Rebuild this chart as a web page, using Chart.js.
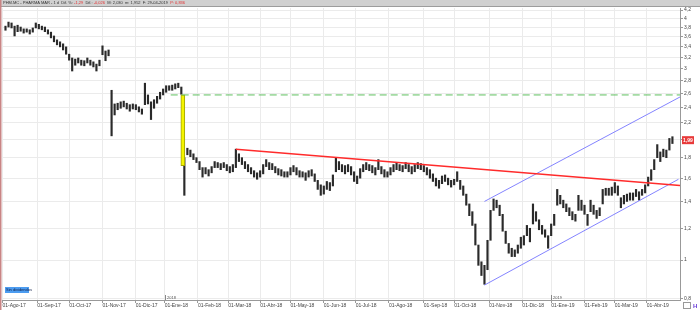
<!DOCTYPE html>
<html><head><meta charset="utf-8">
<script src="https://cdn.jsdelivr.net/npm/chart.js@4"></script>
<style>html,body{margin:0;padding:0;background:#fff;overflow:hidden}</style>
</head><body>
<canvas id="c" width="700" height="310"></canvas>
<script>
// ---- data (trading-day index based x axis) ----
const monthLabels = ['01-Ago-17','01-Sep-17','01-Oct-17','01-Nov-17','01-Dic-17','01-Ene-18','01-Feb-18','01-Mar-18','01-Abr-18','01-May-18','01-Jun-18','01-Jul-18','01-Ago-18','01-Sep-18','01-Oct-18','01-Nov-18','01-Dic-18','01-Ene-19','01-Feb-19','01-Mar-19','01-Abr-19'];
const monthDays = [0,23,44,66,88,107,129,149,170,190,212,233,255,278,298,321,343,362,384,404,425];
const yTicks = [0.8,1,1.2,1.4,1.6,1.8,2,2.2,2.4,2.6,2.8,3,3.2,3.4,3.6,3.8,4,4.2];
const firstDay = 2, dayStep = 2;
const lows = [3.74,3.81,3.79,3.62,3.71,3.72,3.68,3.70,3.66,3.70,
3.79,3.77,3.75,3.71,3.66,3.58,3.50,3.44,3.40,3.34,
3.26,3.15,2.96,3.06,3.10,3.06,3.05,3.10,3.06,3.03,
2.96,3.05,3.25,3.14,3.23,2.04,2.30,2.37,2.39,2.41,
2.38,2.35,2.38,2.37,2.34,2.31,2.44,2.45,2.24,2.39,
2.46,2.52,2.58,2.62,2.65,2.65,2.67,2.69,2.59,1.45,
1.83,1.81,1.78,1.75,1.68,1.61,1.64,1.62,1.65,1.70,
1.70,1.68,1.70,1.67,1.65,1.66,1.70,1.76,1.73,1.69,
1.66,1.64,1.61,1.59,1.61,1.64,1.71,1.68,1.68,1.65,
1.63,1.62,1.61,1.61,1.63,1.66,1.63,1.61,1.61,1.58,
1.61,1.62,1.57,1.50,1.45,1.46,1.50,1.49,1.53,1.66,
1.68,1.66,1.64,1.66,1.63,1.57,1.55,1.60,1.66,1.68,
1.67,1.65,1.63,1.68,1.64,1.61,1.61,1.63,1.66,1.68,
1.67,1.66,1.69,1.66,1.64,1.66,1.69,1.68,1.66,1.63,
1.60,1.57,1.53,1.51,1.55,1.57,1.54,1.52,1.54,1.57,
1.50,1.45,1.37,1.29,1.22,1.09,0.97,0.915,0.87,0.946,
1.12,1.33,1.35,1.29,1.18,1.10,1.04,1.02,1.02,1.04,
1.07,1.09,1.15,1.11,1.23,1.25,1.19,1.16,1.14,1.07,
1.15,1.22,1.37,1.38,1.35,1.32,1.29,1.26,1.25,1.33,
1.33,1.30,1.22,1.32,1.30,1.27,1.29,1.38,1.45,1.45,
1.45,1.47,1.45,1.35,1.38,1.40,1.41,1.41,1.44,1.41,
1.45,1.47,1.53,1.58,1.68,1.80,1.76,1.81,1.80,1.88,
1.952];
const highs = [3.83,3.92,3.90,3.83,3.85,3.81,3.77,3.77,3.75,3.79,
3.90,3.87,3.83,3.81,3.75,3.70,3.62,3.54,3.50,3.46,
3.40,3.26,3.19,3.17,3.19,3.15,3.14,3.19,3.15,3.12,
3.08,3.15,3.42,3.32,3.34,2.65,2.45,2.46,2.48,2.49,
2.46,2.44,2.45,2.44,2.41,2.38,2.76,2.58,2.48,2.51,
2.56,2.62,2.67,2.72,2.72,2.73,2.75,2.76,2.70,1.80,
1.90,1.88,1.84,1.80,1.76,1.70,1.70,1.68,1.71,1.76,
1.75,1.74,1.75,1.73,1.71,1.73,1.89,1.84,1.80,1.76,
1.73,1.70,1.67,1.65,1.67,1.73,1.78,1.75,1.74,1.71,
1.69,1.68,1.66,1.66,1.70,1.72,1.70,1.67,1.66,1.65,
1.67,1.68,1.64,1.58,1.54,1.53,1.57,1.56,1.63,1.80,
1.76,1.73,1.72,1.73,1.71,1.66,1.62,1.69,1.73,1.75,
1.73,1.72,1.70,1.78,1.71,1.68,1.66,1.70,1.73,1.75,
1.73,1.72,1.75,1.73,1.71,1.73,1.75,1.74,1.72,1.70,
1.68,1.64,1.60,1.58,1.62,1.63,1.60,1.58,1.59,1.66,
1.58,1.53,1.46,1.38,1.32,1.23,1.09,0.99,0.97,1.12,
1.33,1.42,1.41,1.37,1.30,1.18,1.10,1.07,1.06,1.09,
1.14,1.15,1.22,1.20,1.38,1.32,1.26,1.22,1.19,1.15,
1.23,1.30,1.50,1.45,1.41,1.38,1.35,1.32,1.30,1.45,
1.41,1.37,1.30,1.41,1.37,1.33,1.35,1.50,1.51,1.51,
1.52,1.56,1.53,1.43,1.45,1.46,1.47,1.47,1.50,1.48,
1.50,1.54,1.61,1.68,1.78,1.94,1.86,1.89,1.88,2.01,
2.03];
const lastClose = 1.99;
const gapDay = 119, gapRange = [1.72, 2.58];
const supportDays = [111, 447], supportValues = [2.58, 2.58];
const redDays = [154, 447], redValues = [1.89, 1.535];
const chanLowDays = [318, 446], chanLowValues = [0.866, 1.59];
const chanHighDays = [318, 447], chanHighValues = [1.40, 2.55];
const headerParts = [['PHM.MC - PHARMA MAR - 1 d  Dif. %: ','#333'],['-1,29','#e53030'],['  Dif.: ','#333'],['-0,026','#e53030'],['  M: 2,030  m: 1,952  F: 29-04-2019  ','#333'],['P: 0,836','#e53030']];

const pts = (d, v) => d.map((x, i) => ({x, y: v[i]}));
const bars = highs.map((h, i) => ({x: firstDay + dayStep * i, y: [lows[i], h]}));

const decor = {
  id: 'decor',
  beforeDraw(c) { const ctx = c.ctx; ctx.save(); ctx.fillStyle = '#fff'; ctx.fillRect(0, 0, c.width, c.height); ctx.restore(); },
  afterDraw(c) {
    const ctx = c.ctx, xs = c.scales.x, ys = c.scales.y;
    ctx.save();
    ctx.fillStyle = '#d0d0d0'; ctx.fillRect(0, 0, 700, 6);
    ctx.fillStyle = '#9c9c9c'; ctx.fillRect(0, 6, 700, 1);
    ctx.font = '4px Arial'; ctx.textBaseline = 'middle';
    let px = 3;
    headerParts.forEach(p => { ctx.fillStyle = p[1]; ctx.fillText(p[0], px, 3.3); px += ctx.measureText(p[0]).width; });
    ctx.fillStyle = '#c98585'; ctx.fillRect(0, 0, 1.5, 310);
    ctx.font = '4px Arial'; ctx.fillStyle = '#555'; ctx.textBaseline = 'alphabetic';
    [[107, '2018'], [362, '2019']].forEach(([d, t]) => {
      const p = Math.round(xs.getPixelForValue(d)) + 0.5;
      ctx.strokeStyle = '#888'; ctx.lineWidth = 1;
      ctx.beginPath(); ctx.moveTo(p, 295); ctx.lineTo(p, 300); ctx.stroke();
      ctx.fillText(t, p + 1.5, 298.5);
    });
    ctx.fillStyle = '#4c9cf0'; ctx.fillRect(5, 287, 24, 6);
    ctx.fillStyle = '#10204a'; ctx.font = '4px Arial'; ctx.textBaseline = 'middle';
    ctx.fillText('Sin dividendos', 6, 290.2);
    const yp = ys.getPixelForValue(lastClose);
    ctx.fillStyle = '#e83a3a'; ctx.fillRect(682, yp - 4, 12, 8);
    ctx.fillStyle = '#fff'; ctx.font = 'bold 5px Arial'; ctx.textBaseline = 'middle';
    ctx.fillText(String(lastClose).replace('.', ','), 683, yp + 0.3);
    ctx.strokeStyle = '#999'; ctx.lineWidth = 1; ctx.strokeRect(683.5, 302.5, 7, 6);
    ctx.fillStyle = '#6b3fd8'; ctx.font = 'bold 6px Arial'; ctx.fillText('H', 693, 306);
    ctx.restore();
  }
};

new Chart(document.getElementById('c'), {
  type: 'bar',
  data: {
    datasets: [
      {type: 'line', data: pts(supportDays, supportValues), borderColor: '#5fbf5f', borderWidth: 1, borderDash: [7, 4], pointRadius: 0, fill: false, order: 0},
      {type: 'line', data: pts(redDays, redValues), borderColor: '#ff2b2b', borderWidth: 1.5, pointRadius: 0, fill: false, order: 0},
      {type: 'line', data: pts(chanLowDays, chanLowValues), borderColor: '#8484ff', borderWidth: 1, pointRadius: 0, fill: false, order: 0},
      {type: 'line', data: pts(chanHighDays, chanHighValues), borderColor: '#8484ff', borderWidth: 1, pointRadius: 0, fill: false, order: 0},
      {data: [{x: gapDay, y: gapRange}], backgroundColor: '#f4f400', borderColor: '#a4a400', borderWidth: 1, borderSkipped: false, barThickness: 4, grouped: false, order: 1},
      {data: bars, backgroundColor: '#2a2a2a', barThickness: 1.5, grouped: false, order: 2}
    ]
  },
  options: {
    responsive: false, animation: false, devicePixelRatio: 1,
    layout: {padding: {left: 2, top: 8, right: 0, bottom: 0}},
    plugins: {legend: {display: false}, tooltip: {enabled: false}},
    scales: {
      x: {
        type: 'linear', min: -0.3, max: 447, offset: false, beginAtZero: false,
        grid: {offset: false, color: '#ebebeb', tickLength: 3, tickColor: '#999'},
        border: {color: '#999'},
        afterBuildTicks: s => { s.ticks = monthDays.map(v => ({value: v})); },
        afterFit: s => { s.height = 10; s.paddingLeft = 0; s.paddingRight = 0; },
        ticks: {autoSkip: false, maxRotation: 0, minRotation: 0, align: 'start', padding: 0, font: {size: 5, family: 'Arial'}, color: '#444', callback: (v, i) => monthLabels[i]}
      },
      y: {
        type: 'logarithmic', position: 'right', min: 0.795, max: 4.25, beginAtZero: false,
        grid: {color: '#ebebeb', tickLength: 3, tickColor: '#999'},
        border: {color: '#999'},
        afterBuildTicks: s => { s.ticks = yTicks.map(v => ({value: v})); },
        afterFit: s => { s.width = 20; s.paddingTop = 0; s.paddingBottom = 0; },
        ticks: {autoSkip: false, padding: 1, font: {size: 5, family: 'Arial'}, color: '#444', callback: v => String(v).replace('.', ',')}
      }
    }
  },
  plugins: [decor]
});
</script>
</body></html>
